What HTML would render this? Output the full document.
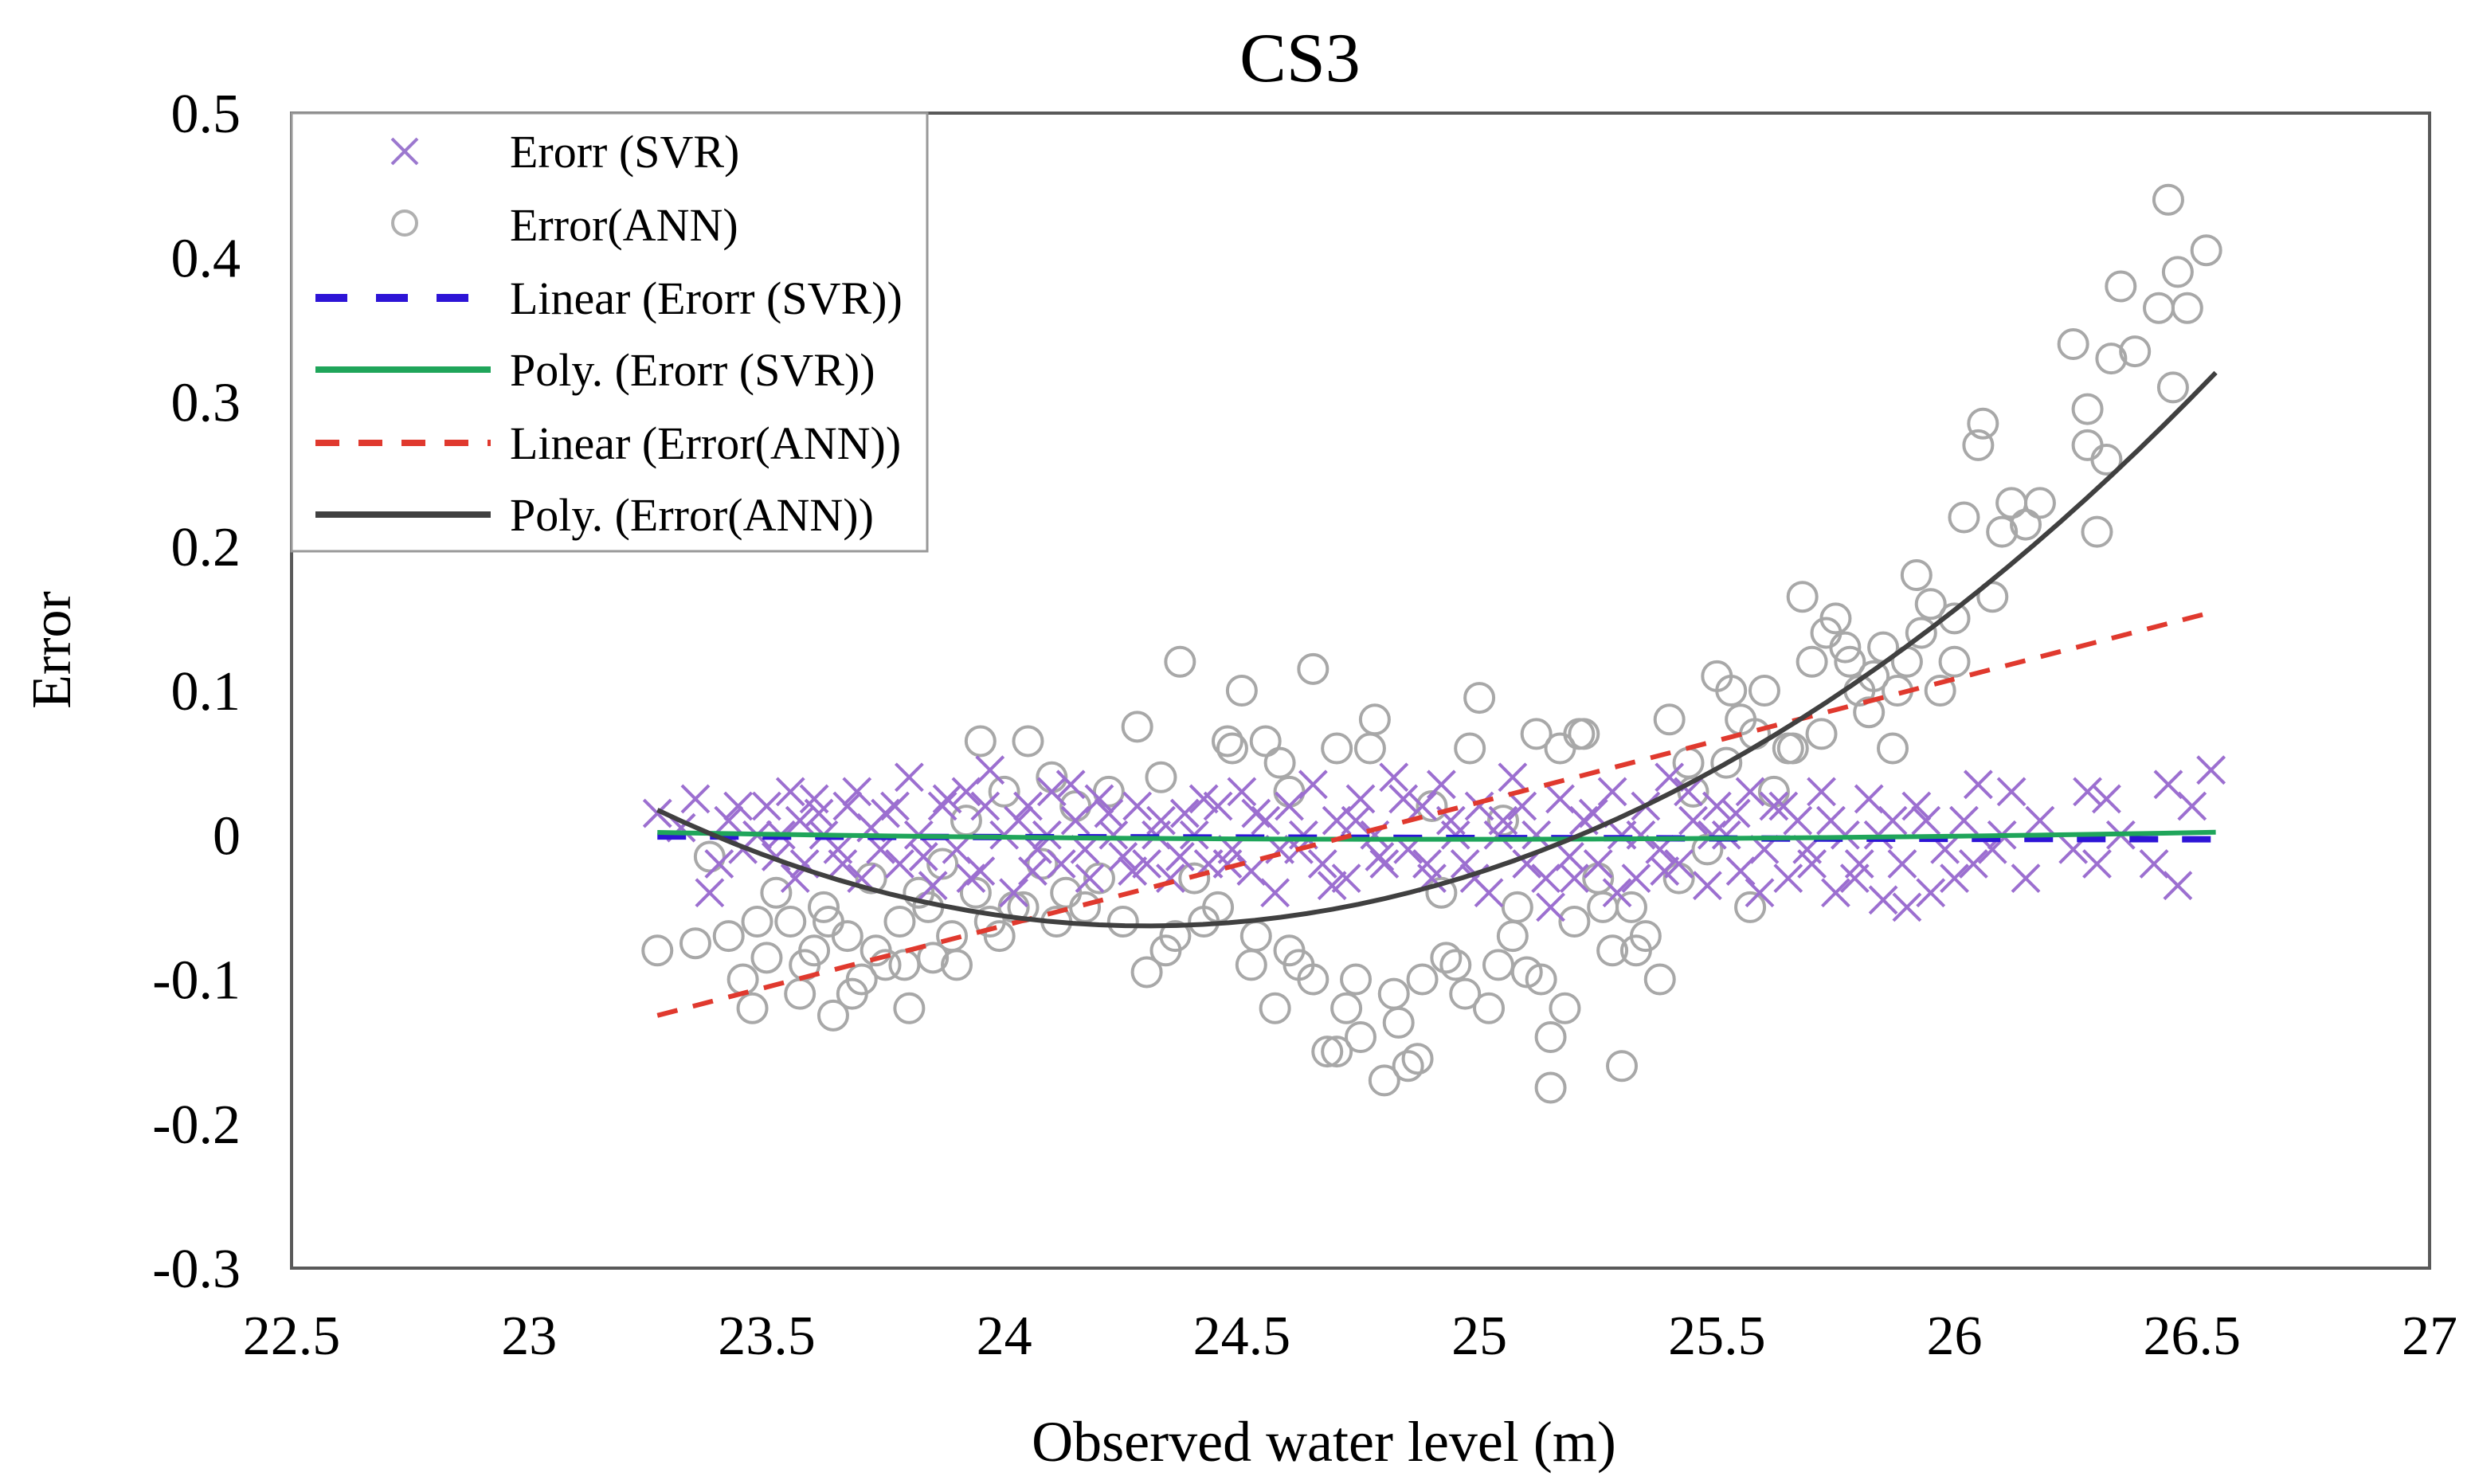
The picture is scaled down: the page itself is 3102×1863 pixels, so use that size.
<!DOCTYPE html>
<html><head><meta charset="utf-8"><style>
html,body{margin:0;padding:0;background:#fff;}
svg{display:block;font-family:"Liberation Serif",serif;}
</style></head><body>
<svg id="chart" width="3102" height="1863" viewBox="0 0 3102 1863" xmlns="http://www.w3.org/2000/svg">
<rect width="3102" height="1863" fill="#fff"/>
<text x="1632" y="102" font-size="88" text-anchor="middle">CS3</text>
<g id="plot"></g>
<rect x="366" y="142" width="2684" height="1450" fill="none" stroke="#595959" stroke-width="4"/>
<g id="xt"></g>
<g id="yt"></g>
<text x="1662" y="1834" font-size="72" text-anchor="middle">Observed water level (m)</text>
<text transform="translate(88,816) rotate(-90)" font-size="70" text-anchor="middle">Error</text>
<g>
<rect x="366" y="142" width="798" height="550" fill="#fff" stroke="#999" stroke-width="3"/>
<g><path d="M492 174 L524 206 M524 174 L492 206" stroke="#9c78cf" stroke-width="4"/><text x="640" y="210" font-size="58">Erorr (SVR)</text></g>
<g><circle cx="508" cy="280" r="15" fill="none" stroke="#b0b0b0" stroke-width="4"/><text x="640" y="302" font-size="58">Error(ANN)</text></g>
<g><line x1="396" y1="374" x2="600" y2="374" stroke="#2d14d6" stroke-width="10" stroke-dasharray="40 36"/><text x="640" y="394" font-size="58">Linear (Erorr (SVR))</text></g>
<g><line x1="396" y1="464" x2="616" y2="464" stroke="#1fa55a" stroke-width="8"/><text x="640" y="484" font-size="58">Poly. (Erorr (SVR))</text></g>
<g><line x1="396" y1="556" x2="616" y2="556" stroke="#e0392e" stroke-width="8" stroke-dasharray="30 24"/><text x="640" y="576" font-size="58">Linear (Error(ANN))</text></g>
<g><line x1="396" y1="646" x2="616" y2="646" stroke="#404040" stroke-width="8"/><text x="640" y="666" font-size="58">Poly. (Error(ANN))</text></g>
</g>
</svg>
<script>
const xTicks=[22.5,23,23.5,24,24.5,25,25.5,26,26.5,27];
const yTicks=[0.5,0.4,0.3,0.2,0.1,0,-0.1,-0.2,-0.3];
const annX=[23.27,23.35,23.38,23.42,23.45,23.47,23.5,23.52,23.55,23.57,23.6,23.62,23.64,23.67,23.7,23.72,23.75,23.78,23.8,23.82,23.85,23.87,23.9,23.92,23.95,23.97,24.0,24.02,24.05,24.08,24.1,24.13,24.15,24.2,24.25,24.28,24.3,24.33,24.36,24.37,24.4,24.45,24.48,24.5,24.52,24.55,24.57,24.6,24.6,24.65,24.65,24.68,24.7,24.72,24.75,24.78,24.8,24.82,24.85,24.88,24.9,24.92,24.95,24.97,25.0,25.02,25.05,25.07,25.1,25.12,25.15,25.15,25.18,25.2,25.22,25.25,25.28,25.3,25.32,25.35,25.38,25.4,25.42,25.45,25.48,25.5,25.52,25.55,25.57,25.6,25.62,25.65,25.68,25.7,25.72,25.75,25.77,25.8,25.82,25.85,25.87,25.9,25.92,25.95,25.97,26.0,26.02,26.05,26.06,26.08,26.12,26.15,26.18,26.25,26.28,26.28,26.3,26.32,26.33,26.35,26.38,26.43,26.45,26.46,26.47,26.49,26.53,
23.48,23.58,23.63,23.68,23.73,23.79,23.84,23.89,23.94,23.99,24.04,24.11,24.17,24.22,24.34,24.42,24.47,24.53,24.58,24.62,24.7,24.74,24.77,24.83,24.87,24.93,24.98,25.04,25.08,25.13,25.17,25.21,25.26,25.33,25.44,25.53,25.58,25.66,25.73,25.78,25.83,25.88,25.93,26.0,26.1];
const annY=[-0.08,-0.075,-0.015,-0.07,-0.1,-0.12,-0.085,-0.04,-0.06,-0.11,-0.08,-0.05,-0.125,-0.07,-0.1,-0.03,-0.09,-0.06,-0.12,-0.04,-0.085,-0.02,-0.09,0.01,0.065,-0.06,0.03,-0.05,0.065,-0.02,0.04,-0.04,0.02,-0.03,-0.06,0.075,-0.095,0.04,-0.07,0.12,-0.03,-0.05,0.06,0.1,-0.09,0.065,-0.12,0.03,-0.08,0.115,-0.1,-0.15,0.06,-0.12,-0.14,0.08,-0.17,-0.11,-0.16,-0.1,0.02,-0.04,-0.09,-0.11,0.095,-0.12,0.01,-0.07,-0.095,0.07,-0.175,-0.14,-0.12,-0.06,0.07,-0.03,-0.08,-0.16,-0.05,-0.07,-0.1,0.08,-0.03,0.03,-0.01,0.11,0.05,0.08,-0.05,0.1,0.03,0.06,0.165,0.12,0.07,0.15,0.13,0.1,0.085,0.13,0.06,0.12,0.18,0.16,0.1,0.12,0.22,0.27,0.285,0.165,0.23,0.215,0.23,0.34,0.295,0.27,0.21,0.26,0.33,0.38,0.335,0.365,0.44,0.31,0.39,0.365,0.405,
-0.06,-0.09,-0.06,-0.11,-0.08,-0.09,-0.05,-0.07,-0.04,-0.07,-0.05,-0.06,-0.05,0.03,-0.08,-0.06,0.065,-0.07,0.05,-0.09,-0.15,-0.1,0.06,-0.13,-0.155,-0.085,0.06,-0.09,-0.05,-0.1,0.06,0.07,-0.05,-0.08,0.05,0.1,0.07,0.06,0.14,0.12,0.11,0.1,0.14,0.15,0.21];
const svrX=[23.27,23.32,23.35,23.38,23.4,23.42,23.45,23.48,23.5,23.52,23.55,23.57,23.58,23.6,23.62,23.65,23.67,23.7,23.72,23.75,23.78,23.8,23.82,23.85,23.87,23.9,23.92,23.95,23.97,24.0,24.02,24.05,24.07,24.1,24.12,24.15,24.18,24.2,24.23,24.25,24.28,24.3,24.33,24.35,24.38,24.4,24.43,24.45,24.48,24.5,24.52,24.55,24.57,24.6,24.62,24.65,24.67,24.7,24.72,24.75,24.78,24.8,24.82,24.85,24.88,24.9,24.92,24.95,24.97,25.0,25.02,25.05,25.07,25.1,25.12,25.15,25.17,25.2,25.22,25.25,25.28,25.3,25.33,25.35,25.38,25.4,25.42,25.45,25.48,25.5,25.52,25.55,25.57,25.6,25.62,25.65,25.67,25.7,25.72,25.75,25.77,25.8,25.82,25.85,25.87,25.9,25.92,25.95,25.98,26.0,26.02,26.05,26.08,26.12,26.15,26.18,26.25,26.28,26.3,26.32,26.35,26.42,26.45,26.47,26.5,26.54,
23.44,23.53,23.56,23.61,23.66,23.69,23.74,23.77,23.83,23.88,23.93,23.96,24.03,24.06,24.09,24.14,24.17,24.22,24.27,24.32,24.37,24.42,24.47,24.53,24.58,24.63,24.69,24.74,24.79,24.84,24.89,24.94,24.99,25.04,25.09,25.14,25.19,25.24,25.29,25.34,25.39,25.44,25.49,25.54,25.59,25.64,25.69,25.74,25.79,25.84,25.89,25.94,26.04,26.1];
const svrY=[0.015,0.005,0.025,-0.04,-0.02,0.01,-0.01,0.0,0.02,-0.015,0.03,0.01,-0.02,0.025,0.0,-0.01,0.02,-0.03,0.005,0.015,-0.02,0.04,0.0,-0.035,0.02,-0.01,0.03,-0.025,0.045,0.0,-0.04,0.02,-0.01,0.03,-0.02,0.01,-0.03,0.025,0.0,-0.015,0.02,-0.02,0.01,-0.03,0.015,0.0,-0.02,0.02,-0.01,0.03,-0.025,0.01,-0.04,0.02,-0.01,0.035,-0.02,0.01,-0.03,0.025,0.0,-0.02,0.04,-0.01,0.02,-0.03,0.035,0.0,-0.02,0.02,-0.04,0.01,0.04,-0.02,0.0,-0.05,0.025,-0.03,0.01,-0.02,0.03,0.0,-0.03,0.02,-0.01,0.04,-0.02,0.01,-0.035,0.02,0.0,-0.025,0.03,-0.01,0.02,-0.03,0.01,-0.02,0.03,-0.04,0.0,-0.02,0.025,-0.045,0.01,-0.05,0.02,-0.04,-0.01,-0.03,0.01,0.035,-0.01,0.03,-0.03,0.01,-0.01,0.03,-0.02,0.025,0.0,-0.02,0.035,-0.035,0.02,0.045,
0.02,0.0,-0.03,0.015,-0.02,0.03,-0.01,0.02,-0.015,0.025,-0.03,0.02,0.01,-0.025,0.0,0.035,-0.01,0.015,-0.025,0.0,-0.015,0.025,-0.02,0.015,-0.01,0.0,-0.035,0.01,-0.015,0.025,-0.02,0.01,-0.03,0.0,0.02,-0.03,-0.015,0.015,-0.04,0.0,-0.025,0.03,0.0,0.015,-0.04,0.02,-0.01,0.01,-0.03,0.0,-0.02,0.01,-0.02,0.0];
const trendRange=[23.27,26.55];
const linSvrY=[-0.001,-0.003];
const linAnnY=[-0.125,0.155];
const polyAnnCoef=[0.0757,24.3,-0.063];
const polySvrCoef=[0.0018,24.9,-0.003];

const X=v=>366+(v-22.5)/(27-22.5)*2684;
const Y=v=>142+(0.5-v)/(0.8)*1450;
const NS="http://www.w3.org/2000/svg";
const plot=document.getElementById('plot');
function mk(tag,attrs,parent){const e=document.createElementNS(NS,tag);for(const k in attrs)e.setAttribute(k,attrs[k]);parent.appendChild(e);return e;}

const xt=document.getElementById('xt');
xTicks.forEach(t=>{const e=mk('text',{x:X(t),y:1700,'font-size':70,'text-anchor':'middle'},xt);e.textContent=t;

});
const yt=document.getElementById('yt');
yTicks.forEach(t=>{const e=mk('text',{x:302,y:Y(t)+24,'font-size':70,'text-anchor':'end'},yt);e.textContent=t;

});

annX.forEach((x,i)=>{const c=mk('circle',{cx:X(x),cy:Y(annY[i]),r:18,fill:'none',stroke:'#a8a8a8','stroke-width':4},plot);

});
svrX.forEach((x,i)=>{const cx=X(x),cy=Y(svrY[i]),s=17;const p=mk('path',{d:`M${cx-s} ${cy-s}L${cx+s} ${cy+s}M${cx+s} ${cy-s}L${cx-s} ${cy+s}`,stroke:'#9c6fd0','stroke-width':4},plot);

});

function poly(c){let d='';for(let i=0;i<=60;i++){const x=trendRange[0]+(trendRange[1]-trendRange[0])*i/60;const y=c[0]*(x-c[1])**2+c[2];d+=(i?'L':'M')+X(x)+' '+Y(y);}return d;}
let l=mk('line',{x1:X(trendRange[0]),y1:Y(linSvrY[0]),x2:X(trendRange[1]),y2:Y(linSvrY[1]),stroke:'#2d14d6','stroke-width':8,'stroke-dasharray':'36 30'},plot);


l=mk('path',{d:poly(polySvrCoef),fill:'none',stroke:'#1fa55a','stroke-width':6},plot);


l=mk('line',{x1:X(trendRange[0]),y1:Y(linAnnY[0]),x2:X(trendRange[1]),y2:Y(linAnnY[1]),stroke:'#e0392e','stroke-width':6,'stroke-dasharray':'26 20'},plot);


l=mk('path',{d:poly(polyAnnCoef),fill:'none',stroke:'#404040','stroke-width':6},plot);


</script>
</body></html>
